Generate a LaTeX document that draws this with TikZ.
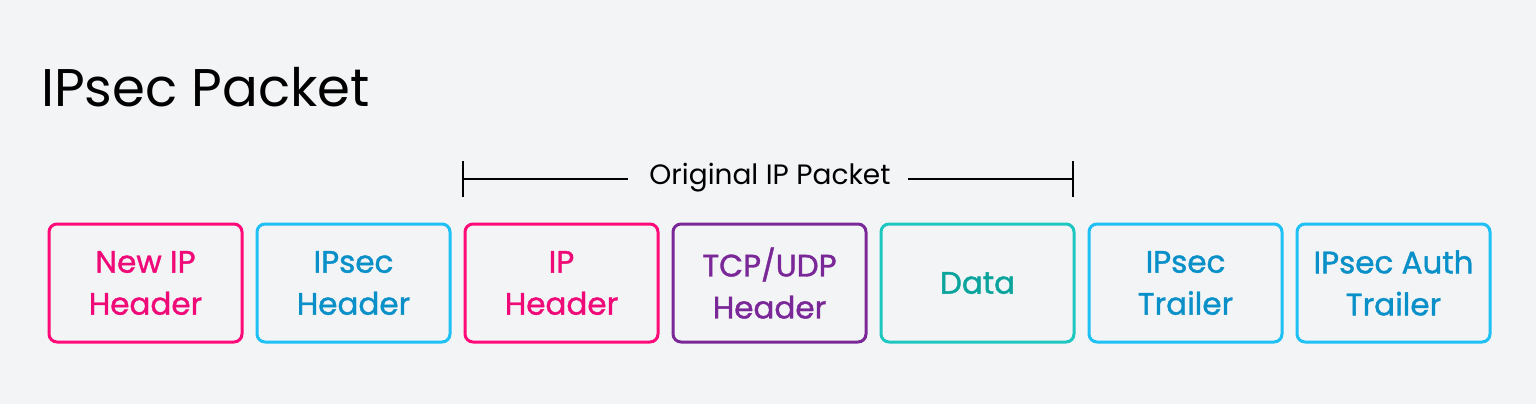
\documentclass[tikz,border=0pt]{standalone}
\usepackage{fontspec}
\setmainfont{Poppins}
\newfontfamily\medfont[FakeBold=1.2]{Poppins}
\definecolor{bg}{HTML}{F3F4F6}
\definecolor{pinkb}{HTML}{FF0A78}
\definecolor{pinkt}{HTML}{F00A78}
\definecolor{cyanb}{HTML}{1EC0F5}
\definecolor{cyant}{HTML}{0A90C8}
\definecolor{purp}{HTML}{7A2898}
\definecolor{tealb}{HTML}{1EC6C0}
\definecolor{tealt}{HTML}{0AA49C}
\tikzset{x=1pt,y=-1pt,
 pkt/.style={draw=#1,line width=3pt,rounded corners=8pt,minimum width=193pt,minimum height=118pt,align=center,font=\medfont\fontsize{31}{42}\selectfont,anchor=north west,inner sep=0pt},
 lbl/.style={font=\fontsize{28}{30}\selectfont,inner sep=0pt}}
\begin{document}
\begin{tikzpicture}
\fill[bg] (0,0) rectangle (1536,404);
\useasboundingbox (0,0) rectangle (1536,404);
\node[anchor=base west,inner sep=0pt,font=\fontsize{53}{60}\selectfont] (title) at (41,106) {IPsec Packet};
\node[pkt=pinkb,text=pinkt] (b1) at (47.5,222.5) {New IP\\Header};
\node[pkt=cyanb,text=cyant] (b2) at (255.5,222.5) {IPsec\\Header};
\node[pkt=pinkb,text=pinkt] (b3) at (463.5,222.5) {IP\\Header};
\node[pkt=purp,text=purp] (b4) at (671.5,222.5) {TCP/UDP\\Header};
\node[pkt=tealb,text=tealt] (b5) at (879.5,222.5) {Data};
\node[pkt=cyanb,text=cyant] (b6) at (1087.5,222.5) {IPsec\\Trailer};
\node[pkt=cyanb,text=cyant] (b7) at (1295.5,222.5) {IPsec Auth\\Trailer};
\node[lbl] (orig) at (770,178) {Original IP Packet};
\coordinate (l) at (463,179);
\coordinate (r) at (1073,179);
\coordinate (lm) at (628,179);
\coordinate (rm) at (908,179);
\draw[line width=1.5pt] (l) -- (lm);
\draw[line width=1.5pt] (rm) -- (r);
\draw[line width=1.5pt] (463,161) -- (463,197);
\draw[line width=1.5pt] (1073,161) -- (1073,197);
\end{tikzpicture}
\end{document}
